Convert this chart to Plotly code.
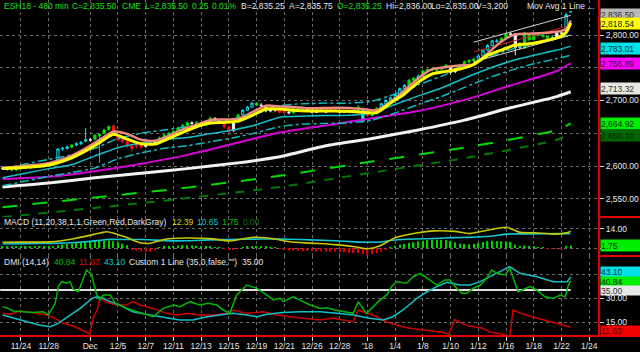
import plotly.graph_objects as go

# ---------------- data ----------------
TICK_BARS = [4, 10, 19, 25, 31, 37, 43, 49, 55, 61, 67, 73, 79, 85, 91, 97, 103, 109, 115, 121, 127]
TICK_LABELS = ["11/24", "11/28", "Dec", "12/5", "12/7", "12/11", "12/13", "12/15", "12/19", "12/21",
               "12/26", "12/28", "'18", "1/4", "1/8", "1/10", "1/12", "1/16", "1/18", "1/22", "1/24"]

OPEN = [2597, 2596, 2595, 2594, 2596, 2597, 2598, 2598, 2599, 2600,
        2600, 2601, 2609, 2626, 2627, 2629, 2632, 2634, 2638, 2640,
        2641, 2646, 2650, 2656, 2661, 2645, 2642, 2638, 2631, 2633,
        2632, 2630, 2633, 2635, 2638, 2643, 2647, 2650, 2653, 2658,
        2662, 2666, 2665, 2666, 2662, 2667, 2673, 2670, 2665, 2660,
        2654, 2667, 2678, 2685, 2690, 2696, 2693, 2691, 2684, 2685,
        2685, 2683, 2682, 2681, 2688, 2687, 2689, 2685, 2682, 2684,
        2685, 2689, 2686, 2684, 2682, 2683, 2683, 2685, 2685, 2680,
        2677, 2680, 2688, 2695, 2700, 2704, 2709, 2718, 2723, 2731,
        2734, 2737, 2745, 2747, 2746, 2748, 2750, 2752, 2744, 2748,
        2754, 2759, 2761, 2763, 2768, 2777, 2784, 2791, 2790, 2795,
        2802, 2802, 2781, 2780, 2801, 2793, 2801, 2800, 2798, 2795,
        2796, 2803, 2806, 2835.25]
HIGH = [2599, 2598, 2597, 2598, 2599, 2600, 2600, 2601, 2602, 2602,
        2603, 2605, 2627, 2629, 2631, 2633, 2636, 2638, 2658, 2643,
        2649, 2650, 2657, 2662, 2663, 2646, 2643, 2640, 2632, 2634,
        2633, 2635, 2637, 2640, 2645, 2649, 2652, 2655, 2660, 2664,
        2668, 2668, 2669, 2667, 2669, 2675, 2674, 2671, 2666, 2661,
        2668, 2680, 2687, 2692, 2698, 2697, 2696, 2692, 2687, 2688,
        2686, 2684, 2684, 2690, 2690, 2691, 2690, 2686, 2686, 2687,
        2686, 2690, 2687, 2685, 2685, 2685, 2687, 2693, 2686, 2681,
        2682, 2690, 2697, 2702, 2706, 2711, 2720, 2725, 2733, 2736,
        2740, 2747, 2749, 2750, 2751, 2752, 2756, 2753, 2750, 2756,
        2761, 2763, 2766, 2770, 2779, 2786, 2793, 2794, 2797, 2804,
        2805, 2803, 2789, 2805, 2802, 2803, 2803, 2801, 2799, 2799,
        2805, 2806, 2834, 2836]
LOW = [2594, 2593, 2592, 2593, 2595, 2595, 2596, 2597, 2597, 2598,
       2599, 2600, 2607, 2623, 2625, 2627, 2630, 2632, 2636, 2637,
       2640, 2605, 2648, 2654, 2650, 2638, 2635, 2628, 2622, 2627,
       2626, 2628, 2631, 2633, 2637, 2642, 2646, 2649, 2652, 2656,
       2660, 2663, 2663, 2660, 2661, 2666, 2668, 2664, 2657, 2650,
       2652, 2666, 2677, 2684, 2689, 2691, 2689, 2682, 2682, 2683,
       2680, 2680, 2679, 2680, 2685, 2686, 2684, 2680, 2681, 2683,
       2681, 2683, 2682, 2680, 2681, 2681, 2682, 2684, 2666, 2675,
       2676, 2679, 2687, 2694, 2699, 2703, 2708, 2717, 2722, 2729,
       2727, 2736, 2743, 2744, 2744, 2746, 2749, 2740, 2742, 2747,
       2753, 2757, 2759, 2762, 2767, 2776, 2783, 2788, 2789, 2794,
       2798, 2769, 2778, 2779, 2790, 2792, 2798, 2796, 2793, 2794,
       2795, 2801, 2804, 2835]
CLOSE = [2596, 2595, 2594, 2596, 2597, 2598, 2598, 2599, 2600, 2600,
         2601, 2603, 2626, 2627, 2629, 2632, 2634, 2636, 2640, 2640,
         2647, 2648, 2655, 2660, 2652, 2640, 2637, 2631, 2627, 2630,
         2629, 2634, 2635, 2638, 2643, 2647, 2650, 2653, 2658, 2662,
         2666, 2665, 2666, 2662, 2667, 2673, 2670, 2666, 2660, 2653,
         2666, 2678, 2685, 2690, 2696, 2693, 2692, 2684, 2685, 2685,
         2682, 2682, 2681, 2688, 2687, 2689, 2685, 2682, 2684, 2685,
         2682, 2686, 2684, 2682, 2683, 2683, 2685, 2690, 2668, 2677,
         2680, 2688, 2695, 2700, 2704, 2709, 2718, 2723, 2731, 2734,
         2737, 2745, 2747, 2747, 2748, 2750, 2754, 2743, 2748, 2754,
         2759, 2761, 2763, 2768, 2777, 2784, 2791, 2790, 2795, 2802,
         2800, 2781, 2787, 2803, 2793, 2801, 2800, 2798, 2795, 2796,
         2803, 2803, 2831, 2835.5]
CANDLE_COLOR = list("WWGGGGWGGW" "GGCCCGCCCW" "GGGGRRRRRR" "RWWWGGGGGG" "GWGWGGWWRR"
                    "WGCCCGWWWW" "RRWGGGWWWW" "WRRWWWGGCR" "GGCCCCCCGG" "CGGGGGGWWG"
                    "GGGCCCCCGG" "WWWGGGGGGC" "WWCC")
BARS = list(range(len(CLOSE)))

# moving averages (x = bar index)
FAST_X = [0, 3, 6, 9, 12, 15, 18, 21, 24, 27, 30, 33, 36, 39, 42, 45, 48, 51, 54, 57, 60,
          63, 66, 69, 72, 75, 78, 81, 84, 87, 90, 93, 96, 99, 102, 105, 108, 111, 114, 117,
          120, 122, 123]
YELLOW_MA = [2596, 2597, 2598.5, 2600.5, 2605, 2612.5, 2623, 2635.5, 2648.5, 2641, 2634,
             2633.5, 2642, 2651.5, 2660, 2665.5, 2666.5, 2668.5, 2677, 2687, 2687, 2685,
             2684, 2684, 2684, 2683.5, 2682, 2681.5, 2696, 2710, 2728, 2740.5, 2744.5, 2748,
             2755, 2768.8, 2777, 2784.7, 2786.5, 2790.5, 2795.5, 2804, 2818.54]
SALMON_MA = [2597.5, 2599, 2601, 2603, 2608, 2616, 2627, 2640, 2652.5, 2649, 2640, 2638.5,
             2646, 2656, 2663, 2670, 2671, 2672, 2682, 2692, 2691, 2690, 2688, 2688.5, 2689,
             2688.5, 2687, 2685, 2698, 2715, 2734, 2748, 2751, 2753.5, 2755, 2772, 2790, 2801,
             2802, 2803, 2805, 2809, 2822]
MID_X = [0, 5, 10, 15, 20, 25, 30, 35, 40, 45, 50, 55, 60, 65, 70, 75, 80, 85, 90, 95, 100,
         105, 110, 115, 120, 123]
CYAN_MA = [2582, 2589, 2596, 2602, 2615.5, 2628, 2635, 2640.5, 2643.5, 2649.5, 2655, 2663,
           2674.5, 2676, 2677, 2677.5, 2681, 2694, 2707, 2719, 2734, 2748, 2760, 2769, 2777,
           2783.01]
CYAN_UPPER = [2596, 2603, 2610, 2617, 2627, 2642, 2650, 2655, 2660, 2666, 2672, 2680, 2692,
              2695, 2696, 2696, 2699, 2710, 2724, 2737, 2752, 2766, 2778, 2787, 2795, 2800]
CYAN_LOWER = [2570, 2577, 2584, 2590, 2597, 2611, 2620, 2627, 2631, 2637, 2643, 2651, 2660,
              2664, 2665, 2666, 2670, 2681, 2694, 2706, 2720, 2734, 2746, 2756, 2764, 2769]
SLOW_X = [0, 10, 20, 30, 40, 50, 60, 70, 80, 90, 100, 110, 120, 123]
MAGENTA_MA = [2580, 2583.5, 2592, 2603.5, 2617, 2634, 2651, 2662, 2673, 2684, 2701, 2723,
              2745, 2756.89]
WHITE_MA = [2568, 2574, 2582, 2589, 2596, 2604, 2614, 2631, 2642, 2655, 2670, 2689, 2706,
            2713.32]
LONG_X = [0, 20, 40, 60, 80, 100, 120, 123]
GREEN_MA = [2537, 2552, 2567, 2585, 2607, 2628, 2655, 2664.92]
DKGREEN_MA = [2522, 2536, 2551, 2568, 2590, 2612, 2640, 2650.10]
CHAN_X = [102, 123]
CHAN_UP = [2789, 2830]
CHAN_MID = [2774, 2815]
CHAN_LO = [2759, 2800]

# MACD
MACD_X = [0, 4.9, 10.3, 15.7, 21.1, 22.6, 26.5, 29.8, 31.9, 35.2, 39.5, 44.9, 49.2, 54.2,
          57.9, 62.2, 66.6, 72.0, 76.3, 78.9, 81.7, 85.0, 89.3, 93.6, 97.9, 101.2, 105.5,
          109.2, 112.0, 115.3, 119.6, 122.3, 123]
MACD_LINE = [4.2, 4.3, 4.5, 7.0, 11.0, 12.0, 8.2, 3.8, 3.5, 6.4, 7.3, 6.9, 5.2, 7.9, 7.2,
             4.6, 3.6, 2.5, 0.9, -0.6, 1.6, 7.5, 10.8, 12.6, 12.2, 10.6, 13.4, 15.2, 11.5,
             11.2, 10.2, 11.3, 12.39]
MACD_SIGNAL = [2.9, 3.2, 3.4, 4.0, 5.6, 6.3, 6.2, 6.3, 6.1, 5.4, 5.3, 6.0, 6.3, 6.5, 6.6,
               6.4, 6.0, 5.3, 4.5, 4.2, 4.4, 5.9, 6.6, 7.0, 7.6, 7.8, 8.6, 10.2, 10.4, 10.4,
               10.6, 10.6, 10.65]
MACD_HIST = [1.2, 1.1, 1.1, 1.0, 1.1, 1.1, 1.0, 1.0, 1.1, 1.1,
             1.1, 1.2, 2.0, 2.6, 3.0, 3.3, 3.6, 3.9, 4.2, 4.4,
             4.8, 5.0, 5.3, 5.5, 5.0, 4.3, 3.2, 2.0, -0.8, -1.8,
             -2.6, -3.0, -2.6, -1.8, 0.5, 1.0, 1.4, 1.6, 1.8, 2.0,
             2.1, 1.9, 1.7, 1.3, 1.1, 0.9, 0.4, 0.2, -0.6, -1.2,
             -1.0, -0.5, 0.3, 0.8, 1.4, 1.7, 1.5, 1.0, 0.6, 0.3,
             -0.5, -1.2, -1.8, -2.0, -2.2, -2.3, -2.3, -2.4, -2.4, -2.5,
             -2.5, -2.6, -2.8, -3.0, -3.2, -3.5, -3.6, -3.8, -4.5, -5.0,
             -4.6, -3.8, -2.8, -1.5, 0.6, 1.6, 2.4, 3.0, 3.6, 4.2,
             4.9, 5.4, 5.8, 6.1, 6.1, 6.0, 5.8, 5.2, 4.2, 3.4,
             3.0, 2.8, 2.9, 3.6, 4.4, 5.0, 5.4, 5.2, 5.0, 4.8,
             4.5, 2.5, 1.5, 1.8, 1.2, 0.9, 0.5, 0.2, -0.3, -0.5,
             -0.4, -0.2, 0.8, 1.75]

# DMI
PDI_X = [0, 0.9, 2.3, 5.2, 6.7, 8.8, 9.9, 11.4, 12.1, 12.8, 13.9, 14.6, 15.3, 16.4, 18.2,
         19.3, 20.4, 21.1, 21.8, 23.3, 24.4, 26.9, 30.5, 32.6, 34.8, 37.0, 38.4, 40.6, 42.7,
         44.5, 46.4, 47.8, 49.2, 50.7, 52.9, 55.0, 57.2, 58.6, 60.1, 60.8, 62.9, 64.4, 66.6,
         68.7, 70.2, 72.0, 73.8, 75.9, 77.0, 78.8, 80.3, 81.3, 83.2, 84.2, 85.3, 87.5, 88.9,
         90.4, 92.5, 94.0, 95.8, 96.9, 98.3, 99.4, 100.5, 101.9, 103.4, 104.8, 105.9, 107.0,
         108.8, 109.8, 111.6, 114.2, 115.6, 117.4, 119.2, 120.7, 121.8, 122.5, 123]
PLUS_DI = [24.6, 23.9, 21.9, 21.4, 21.0, 21.4, 19.4, 26.7, 37.1, 40.2, 39.2, 40.2, 35.6, 33.9,
           47.5, 44.4, 31.9, 28.8, 31.9, 31.9, 26.7, 23.5, 20.4, 18.3, 23.5, 25.6, 24.6, 27.7,
           25.6, 26.7, 25.6, 22.5, 20.4, 31.9, 38.1, 36.1, 31.9, 28.8, 29.8, 27.7, 30.8, 28.8,
           25.6, 23.5, 23.9, 22.5, 21.4, 20.4, 27.7, 20.4, 24.6, 27.7, 31.9, 37.1, 40.2, 39.2,
           43.3, 45.4, 41.3, 38.1, 41.3, 41.3, 36.1, 32.9, 32.9, 36.1, 38.1, 42.3, 47.5, 45.4,
           44.4, 48.6, 33.9, 37.1, 35.0, 30.8, 29.8, 31.9, 30.8, 38.1, 40.84]
ADX_X = [0, 2.3, 5.3, 8.1, 10.3, 12.0, 14.0, 16.8, 19.4, 20.5, 21.8, 23.3, 25.4, 28.2, 31.9,
         35.6, 38.4, 41.2, 44.3, 47.1, 49.9, 52.9, 55.1, 57.2, 60.7, 64.4, 68.7, 72.4, 75.9,
         79.5, 82.4, 84.5, 86.7, 89.7, 91.9, 94.0, 96.2, 99.0, 101.2, 103.4, 106.2, 109.2,
         109.8, 112.0, 115.7, 119.2, 122.2, 123]
ADX = [19.4, 17.5, 15.5, 13.0, 12.0, 14.0, 18.0, 23.5, 29.8, 30.8, 29.8, 27.7, 25.6, 21.4,
       19.4, 17.7, 16.25, 16.25, 18.3, 19.4, 20.4, 19.4, 18.3, 19.8, 21.0, 21.4, 21.4, 20.4,
       19.4, 17.3, 16.25, 18.3, 22.5, 29.8, 33.9, 37.1, 39.8, 38.1, 38.1, 40.2, 44.4, 48.6,
       49.6, 45.4, 43.3, 40.2, 40.2, 43.10]
MDI_X = [0, 1.6, 3.8, 6.6, 9.6, 11.4, 13.1, 15.3, 17.2, 18.9, 19.6, 20.5, 21.1, 22.2, 23.3,
         24.8, 26.9, 28.2, 29.8, 32.6, 35.6, 37.8, 39.9, 42.7, 45.6, 48.6, 49.9, 52.9, 56.4,
         59.4, 62.2, 65.9, 68.7, 71.5, 73.7, 75.9, 77.0, 78.0, 80.2, 82.4, 83.9, 86.0, 87.8,
         91.2, 94.9, 96.6, 97.9, 99.5, 101.0, 103.8, 105.5, 108.1, 109.8, 110.5, 112.0, 114.8,
         119.2, 121.3, 123]
MINUS_DI = [20.4, 19.8, 21.9, 21.0, 19.4, 17.3, 14.4, 12.5, 10.0, 7.5, 17.3, 22.5, 29.8, 27.7,
            26.7, 25.6, 25.6, 27.7, 25.6, 23.5, 20.4, 19.4, 20.4, 19.4, 19.4, 20.4, 22.5, 20.4,
            21.4, 19.4, 18.3, 17.3, 16.25, 17.3, 16.25, 15.2, 22.5, 21.4, 19.4, 16.25, 14.2,
            12.5, 11.25, 10.0, 8.75, 7.5, 16.5, 14.0, 12.5, 11.25, 8.75, 7.5, 5.5, 22.5, 20.6,
            18.1, 15.0, 13.1, 11.63]
CUSTOM_LINE = 35.0

# ---------------- layout constants ----------------
W, H = 640, 352
XR = 598 / W
MAIN_BOT, MACD_BOT, DMI_BOT = 217, 256, 336
XRANGE = [-0.54, 128.9]
FONT = "Liberation Sans, Arial, sans-serif"
FS = 8.5
GRID = "#6a6a6a"
WHITE = "#e8e8e8"
GREEN_TXT = "#19e019"


def py(px):
    return 1 - px / H


fig = go.Figure()


def line(x, y, color, width, dash="solid", axis="y", shape="spline"):
    xa = "x" if axis == "y" else "x" + axis[1:]
    ln = dict(color=color, width=width, dash=dash, shape=shape)
    if shape == "spline":
        ln["smoothing"] = 0.6
    fig.add_trace(go.Scatter(x=x, y=y, mode="lines", xaxis=xa, yaxis=axis, line=ln,
                             hoverinfo="skip"))


line(LONG_X, DKGREEN_MA, "#007a00", 2, "dash")
line(LONG_X, GREEN_MA, "#00dd00", 2, "longdash")
line(SLOW_X, WHITE_MA, "#f2f2ee", 3)
line(SLOW_X, MAGENTA_MA, "#d800d8", 2)
line(MID_X, CYAN_LOWER, "#10b8c0", 1.5, "dashdot")
line(MID_X, CYAN_UPPER, "#10b8c0", 1.5, "dashdot")
line(MID_X, CYAN_MA, "#10c0c8", 1.5)
line(CHAN_X, CHAN_UP, "#d0d0d0", 1, shape="linear")
line(CHAN_X, CHAN_LO, "#d0d0d0", 1, shape="linear")
line(CHAN_X, CHAN_MID, "#d02020", 1, shape="linear")

CANDLE_RGB = {"C": "#00e8f0", "G": "#00e000", "R": "#ff1010", "W": "#f0f0f0"}
for key, col in CANDLE_RGB.items():
    idx = [i for i, c in enumerate(CANDLE_COLOR) if c == key]
    fig.add_trace(go.Candlestick(
        x=[BARS[i] for i in idx], open=[OPEN[i] for i in idx], high=[HIGH[i] for i in idx],
        low=[LOW[i] for i in idx], close=[CLOSE[i] for i in idx],
        increasing=dict(line=dict(color=col, width=1), fillcolor="#000000" if key == "C" else col),
        decreasing=dict(line=dict(color=col, width=1), fillcolor=col),
        whiskerwidth=0, xaxis="x", yaxis="y", hoverinfo="skip"))

line(FAST_X, SALMON_MA, "#f08a80", 2.5)
line(FAST_X, YELLOW_MA, "#ffff00", 3)

# MACD panel
fig.add_trace(go.Bar(x=BARS, y=MACD_HIST, width=0.3, xaxis="x2", yaxis="y2",
                     marker=dict(color=["#00d000" if v >= 0 else "#e00000" for v in MACD_HIST],
                                 line=dict(width=0)), hoverinfo="skip"))
line(MACD_X, MACD_SIGNAL, "#10c8d0", 1.6, axis="y2")
line(MACD_X, MACD_LINE, "#c8c800", 1.6, axis="y2")

# DMI panel
line([-0.5, 123], [CUSTOM_LINE, CUSTOM_LINE], "#e0e0e0", 2, axis="y3", shape="linear")
line(MDI_X, MINUS_DI, "#d00000", 1.5, axis="y3", shape="linear")
line(ADX_X, ADX, "#10c0c8", 1.5, axis="y3", shape="linear")
line(PDI_X, PLUS_DI, "#00b800", 1.5, axis="y3", shape="linear")

xcommon = dict(range=XRANGE, domain=[0, XR], tickmode="array", tickvals=TICK_BARS,
               showgrid=True, gridcolor=GRID, griddash="dot", gridwidth=1, zeroline=False,
               showline=False, fixedrange=True, automargin=False)
ycommon = dict(side="right", showgrid=True, gridcolor=GRID, griddash="dot", zeroline=False,
               showline=True, linecolor="#e00000", linewidth=2, ticks="outside", ticklen=4,
               tickcolor="#d8d8d8", tickfont=dict(family=FONT, size=FS, color=WHITE),
               tickmode="array", fixedrange=True, automargin=False)

fig.update_layout(
    width=W, height=H, margin=dict(l=0, r=0, t=0, b=0, autoexpand=False),
    paper_bgcolor="#000000", plot_bgcolor="#000000", showlegend=False, hovermode=False,
    font=dict(family=FONT, size=FS, color=WHITE),
    xaxis=dict(**xcommon, anchor="y", showticklabels=False, ticks="", rangeslider=dict(visible=False)),
    xaxis2=dict(**xcommon, anchor="y2", showticklabels=False, ticks=""),
    xaxis3=dict(**xcommon, anchor="y3", showticklabels=True, ticktext=TICK_LABELS, ticks="outside",
                ticklen=4, tickcolor="#d8d8d8", ticklabelstandoff=-2,
                tickfont=dict(family=FONT, size=FS, color=WHITE)),
    # 2,650 / 2,750 and 45 labels sit underneath the value flags in the reference
    yaxis=dict(**ycommon, anchor="x", domain=[py(MAIN_BOT), 1], range=[2522.14, 2853.44],
               tickvals=[2550, 2600, 2650, 2700, 2750, 2800],
               ticktext=["2,550.00", "2,600.00", "", "2,700.00", "", "2,800.00"]),
    yaxis2=dict(**ycommon, anchor="x2", domain=[py(MACD_BOT), py(MAIN_BOT)], range=[-5.88, 22.79],
                tickvals=[0, 14], ticktext=["", "14.00"]),
    yaxis3=dict(**ycommon, anchor="x3", domain=[py(DMI_BOT), py(MACD_BOT)], range=[6.25, 56.25],
                tickvals=[15, 30, 45], ticktext=["15.00", "30.00", ""]),
    shapes=[
        dict(type="line", xref="paper", yref="paper", x0=0, x1=1, y0=py(DMI_BOT), y1=py(DMI_BOT),
             line=dict(color="#e00000", width=2)),
        dict(type="line", xref="paper", yref="paper", x0=XR, x1=1, y0=py(MAIN_BOT), y1=py(MAIN_BOT),
             line=dict(color="#e00000", width=2)),
        dict(type="line", xref="paper", yref="paper", x0=XR, x1=1, y0=py(MACD_BOT), y1=py(MACD_BOT),
             line=dict(color="#e00000", width=2)),
    ],
)

ann = []


def text(xpx, ypx, s, color, anchor="left"):
    ann.append(dict(x=xpx / W, y=py(ypx), xref="paper", yref="paper", text=s, showarrow=False,
                    xanchor=anchor, yanchor="middle", font=dict(family=FONT, size=FS, color=color)))


HEADER = [(2, "ESH18 - 480 min", GREEN_TXT), (70, "C=2,835.50", GREEN_TXT), (120, "CME", GREEN_TXT),
          (143, "L=2,835.50", GREEN_TXT), (190, "0.25", GREEN_TXT), (210, "0.01%", GREEN_TXT),
          (239, "B=2,835.25", WHITE), (287, "A=2,835.75", WHITE), (335, "O=2,835.25", GREEN_TXT),
          (384, "Hi=2,836.00", WHITE), (429, "Lo=2,835.00", WHITE), (474, "V=3,200", WHITE)]
for xp, s, c in HEADER:
    text(xp, 6, s, c)
text(596, 6, "Mov Avg 1 Line ...", WHITE, anchor="right")

MACD_LABELS = [(2, "MACD (11,20,38,1,1,Green,Red,DarkGray)", WHITE), (170, "12.39", "#d8d800"),
               (195, "10.65", "#10c8d0"), (220, "1.75", "#00c000"), (241, "0.00", "#007800")]
for xp, s, c in MACD_LABELS:
    text(xp, 222, s, c)
DMI_LABELS = [(2, "DMI (14,14)", WHITE), (52, "40.84", "#00c000"), (77, "11.63", "#e00000"),
              (102, "43.10", "#10c8d0"), (127, 'Custom 1 Line (35,0,false,"")', WHITE),
              (240, "35.00", WHITE)]
for xp, s, c in DMI_LABELS:
    text(xp, 262, s, c)

# (axis, last value, label, background, text colour, vertical nudge px, box height px)
FLAGS = [("y", 2836.50, "2,836.50", "#b8b8b8", "#303030", -3, 11),
         ("y", 2818.54, "2,818.54", "#ffff00", "#202020", -1, 11),
         ("y", 2783.01, "2,783.01", "#00e0e8", "#083838", -2, 11),
         ("y", 2756.89, "2,756.89", "#ff00ff", "#400040", 0, 11),
         ("y", 2713.32, "2,713.32", "#e8e8e0", "#303030", 3, 11),
         ("y", 2664.92, "2,664.92", "#00ee00", "#003000", 0, 11),
         ("y", 2650.10, "2,650.10", "#006800", "#002000", -2, 11),
         ("y2", 1.75, "1.75", "#00ee00", "#003000", 0, 11),
         ("y3", 43.10, "43.10", "#00e0e8", "#083838", 5.5, 10),
         ("y3", 40.84, "40.84", "#00ee00", "#003000", -1, 10),
         ("y3", 35.00, "35.00", "#e8e8e8", "#303030", 0, 9),
         ("y3", 11.63, "11.63", "#ee0000", "#500000", -4, 10)]
for yref, val, s, bg, fg, ys, hh in FLAGS:
    ann.append(dict(x=(XR * W + 2) / W, y=val, xref="paper", yref=yref, text=s, showarrow=False,
                    xanchor="left", yanchor="middle", bgcolor=bg, borderpad=0, width=40,
                    height=hh, align="left", yshift=ys,
                    font=dict(family=FONT, size=FS, color=fg)))
fig.update_layout(annotations=ann)

fig.write_html("out.html")
